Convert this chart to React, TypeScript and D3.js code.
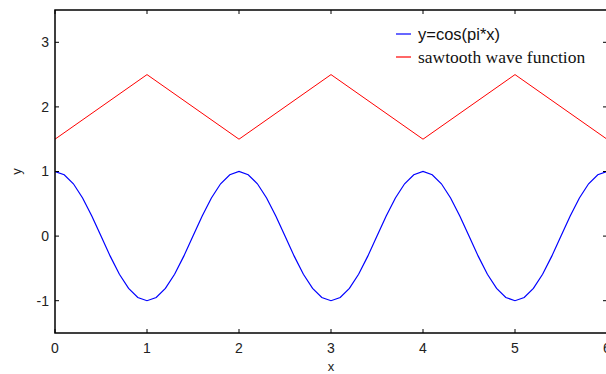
import React from "react";
import * as d3 from "d3";

const xTicks = [0, 1, 2, 3, 4, 5, 6];
const yTicks = [-1, 0, 1, 2, 3];

const sawX = [0, 1, 2, 3, 4, 5, 6];
const sawY = [1.5, 2.5, 1.5, 2.5, 1.5, 2.5, 1.5];

const cosX = [
  0, 0.1, 0.2, 0.3, 0.4, 0.5, 0.6, 0.7, 0.8, 0.9, 1.0, 1.1, 1.2, 1.3, 1.4, 1.5, 1.6, 1.7, 1.8, 1.9, 2.0,
  2.1, 2.2, 2.3, 2.4, 2.5, 2.6, 2.7, 2.8, 2.9, 3.0, 3.1, 3.2, 3.3, 3.4, 3.5, 3.6, 3.7, 3.8, 3.9, 4.0,
  4.1, 4.2, 4.3, 4.4, 4.5, 4.6, 4.7, 4.8, 4.9, 5.0, 5.1, 5.2, 5.3, 5.4, 5.5, 5.6, 5.7, 5.8, 5.9, 6.0,
];
const cosY = [
  1.0, 0.95, 0.81, 0.59, 0.31, 0.0, -0.31, -0.59, -0.81, -0.95, -1.0, -0.95, -0.81, -0.59, -0.31, 0.0, 0.31, 0.59, 0.81, 0.95, 1.0,
  0.95, 0.81, 0.59, 0.31, 0.0, -0.31, -0.59, -0.81, -0.95, -1.0, -0.95, -0.81, -0.59, -0.31, 0.0, 0.31, 0.59, 0.81, 0.95, 1.0,
  0.95, 0.81, 0.59, 0.31, 0.0, -0.31, -0.59, -0.81, -0.95, -1.0, -0.95, -0.81, -0.59, -0.31, 0.0, 0.31, 0.59, 0.81, 0.95, 1.0,
];

const legendLabels = ["y=cos(pi*x)", "sawtooth wave function"];
const legendColors = ["#0000ff", "#ff0000"];

export default function App() {
  const W = 606;
  const H = 374;
  const left = 55;
  const right = 607;
  const top = 10;
  const bottom = 333;

  const x = d3.scaleLinear().domain([0, 6]).range([left, right]);
  const y = d3.scaleLinear().domain([-1.5, 3.5]).range([bottom, top]);

  const line = d3
    .line<[number, number]>()
    .x((d) => x(d[0]))
    .y((d) => y(d[1]));

  const cosPts: [number, number][] = cosX.map((v, i) => [v, cosY[i]]);
  const sawPts: [number, number][] = sawX.map((v, i) => [v, sawY[i]]);

  const tickLen = 4;
  const font = "Arial, 'Liberation Sans', sans-serif";
  const serif = "'Liberation Serif', 'Times New Roman', serif";

  return (
    <svg
      width={W}
      height={H}
      style={{ position: "absolute", left: 0, top: 0, background: "#fff" }}
    >
      <rect x={0} y={0} width={W} height={H} fill="#fff" />
      <defs>
        <clipPath id="plotclip">
          <rect x={left} y={top} width={right - left} height={bottom - top} />
        </clipPath>
      </defs>

      <g clipPath="url(#plotclip)">
        <path d={line(sawPts) || ""} fill="none" stroke="#ff0000" strokeWidth={1} />
        <path d={line(cosPts) || ""} fill="none" stroke="#0000ff" strokeWidth={1.2} />
      </g>

      {/* box */}
      <rect
        x={left}
        y={top}
        width={right - left}
        height={bottom - top}
        fill="none"
        stroke="#000"
        strokeWidth={1.5}
      />

      {/* x ticks */}
      {xTicks.map((t) => (
        <g key={"xt" + t}>
          <line x1={x(t)} x2={x(t)} y1={bottom} y2={bottom - tickLen} stroke="#000" />
          <line x1={x(t)} x2={x(t)} y1={top} y2={top + tickLen} stroke="#000" />
          <text
            x={x(t)}
            y={bottom + 20}
            textAnchor="middle"
            fontFamily={font}
            fontSize={14}
            fill="#222"
          >
            {t}
          </text>
        </g>
      ))}

      {/* y ticks */}
      {yTicks.map((t) => (
        <g key={"yt" + t}>
          <line x1={left} x2={left + tickLen} y1={y(t)} y2={y(t)} stroke="#000" />
          <line x1={right} x2={right - tickLen} y1={y(t)} y2={y(t)} stroke="#000" />
          <text
            x={left - 6}
            y={y(t)}
            dy="0.35em"
            textAnchor="end"
            fontFamily={font}
            fontSize={14}
            fill="#222"
          >
            {t}
          </text>
        </g>
      ))}

      {/* axis labels */}
      <text
        x={x(3)}
        y={371}
        textAnchor="middle"
        fontFamily={font}
        fontSize={13}
        fill="#222"
      >
        x
      </text>
      <text
        transform={`translate(21,${y(1)}) rotate(-90)`}
        textAnchor="middle"
        fontFamily={font}
        fontSize={13}
        fill="#222"
      >
        y
      </text>

      {/* legend */}
      {legendLabels.map((lab, i) => (
        <g key={lab}>
          <line
            x1={396}
            x2={411}
            y1={34 + i * 23}
            y2={34 + i * 23}
            stroke={legendColors[i]}
            strokeWidth={1.2}
          />
          <text
            x={418}
            y={34 + i * 23}
            dy="0.35em"
            fontFamily={i === 0 ? font : serif}
            fontSize={i === 0 ? 16.5 : 17.5}
            fill="#111"
          >
            {lab}
          </text>
        </g>
      ))}
    </svg>
  );
}
